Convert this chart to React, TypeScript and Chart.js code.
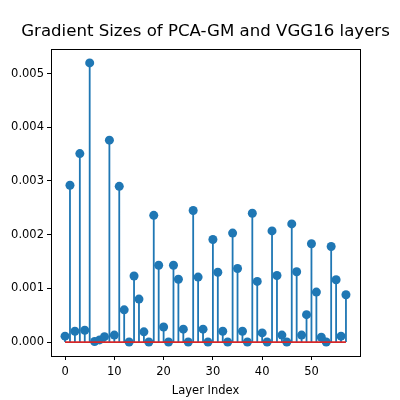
import React, { useEffect, useRef } from "react";
import { Chart, registerables } from "chart.js";

Chart.register(...registerables);

const layerIndex: number[] = Array.from({ length: 58 }, (_, i) => i);
const gradientSizes: number[] = [
  0.00011, 0.00292, 0.0002, 0.00351, 0.00022, 0.0052, 0.00001, 0.00004, 0.0001, 0.00376,
  0.00013, 0.0029, 0.0006, 0.0, 0.00123, 0.0008, 0.00019, 0.0, 0.00236, 0.00143,
  0.00028, 0.0, 0.00143, 0.00117, 0.00024, 0.0, 0.00245, 0.00121, 0.00024, 0.0,
  0.00191, 0.0013, 0.0002, 0.0, 0.00203, 0.00137, 0.0002, 0.0, 0.0024, 0.00113,
  0.00017, 0.0, 0.00207, 0.00124, 0.00013, 0.0, 0.0022, 0.00131, 0.00013, 0.00051,
  0.00183, 0.00093, 0.00009, 0.0, 0.00178, 0.00116, 0.00011, 0.00088,
];
const xTicks: number[] = [0, 10, 20, 30, 40, 50];
const yTicks: number[] = [0, 0.001, 0.002, 0.003, 0.004, 0.005];

const titleText = "Gradient Sizes of PCA-GM and VGG16 layers";
const xLabel = "Layer Index";

const framePlugin = {
  id: "frame",
  afterDatasetsDraw(chart: any) {
    const { ctx, chartArea } = chart;
    ctx.save();
    ctx.strokeStyle = "#000";
    ctx.lineWidth = 1;
    ctx.strokeRect(
      Math.round(chartArea.left) + 0.5,
      Math.round(chartArea.top) + 0.5,
      Math.round(chartArea.right - chartArea.left),
      Math.round(chartArea.bottom - chartArea.top)
    );
    ctx.restore();
  },
};

export default function App() {
  const ref = useRef<HTMLCanvasElement>(null);
  useEffect(() => {
    document.body.style.margin = "0";
    const stems: any[] = [];
    layerIndex.forEach((x, i) => {
      stems.push({ x, y: 0 });
      stems.push({ x, y: gradientSizes[i] });
      stems.push({ x, y: null });
    });
    const markers = layerIndex.map((x, i) => ({ x, y: gradientSizes[i] }));
    const yMax = Math.max(...gradientSizes);
    const yMargin = yMax * 0.05;
    const xMargin = (layerIndex[layerIndex.length - 1] - layerIndex[0]) * 0.05;
    const font = { family: "DejaVu Sans", size: 11.5 };
    const chart = new Chart(ref.current!, {
      type: "scatter",
      data: {
        datasets: [
          {
            label: "baseline",
            data: [
              { x: layerIndex[0], y: 0 },
              { x: layerIndex[layerIndex.length - 1], y: 0 },
            ],
            showLine: true,
            borderColor: "#d62728",
            borderWidth: 1.8,
            pointRadius: 0,
            order: 0,
          },
          {
            label: "markers",
            data: markers,
            showLine: false,
            backgroundColor: "#1f77b4",
            borderColor: "#1f77b4",
            pointRadius: 4.5,
            pointBorderWidth: 0,
            order: 1,
          },
          {
            label: "stems",
            data: stems,
            showLine: true,
            spanGaps: false,
            borderColor: "#1f77b4",
            borderWidth: 1.8,
            pointRadius: 0,
            order: 2,
          },
        ],
      },
      options: {
        animation: false,
        responsive: false,
        layout: { padding: { left: 11, right: 0, top: 0, bottom: 0 } },
        plugins: {
          legend: { display: false },
          tooltip: { enabled: false },
          title: {
            display: true,
            text: titleText,
            color: "#000",
            font: { family: "DejaVu Sans", size: 16.6, weight: "normal" },
            padding: { top: 22, bottom: 7 },
          },
        },
        scales: {
          x: {
            type: "linear",
            min: layerIndex[0] - xMargin,
            max: layerIndex[layerIndex.length - 1] + xMargin,
            afterBuildTicks: (s: any) => {
              s.ticks = xTicks.map((v) => ({ value: v }));
            },
            afterFit: (s: any) => {
              s.height = 44;
            },
            ticks: { color: "#000", font, padding: 5, maxRotation: 0, autoSkip: false },
            grid: { drawOnChartArea: false, drawTicks: true, tickLength: 4, color: "#000" },
            border: { display: false },
            title: {
              display: true,
              text: xLabel,
              color: "#000",
              font,
              padding: { top: 2, bottom: 2 },
            },
          },
          y: {
            type: "linear",
            min: -yMargin,
            max: yMax + yMargin,
            afterBuildTicks: (s: any) => {
              s.ticks = yTicks.map((v) => ({ value: v }));
            },
            afterFit: (s: any) => {
              s.width = 40;
            },
            ticks: {
              color: "#000",
              font,
              padding: 3,
              callback: (v: any) => Number(v).toFixed(3),
            },
            grid: { drawOnChartArea: false, drawTicks: true, tickLength: 4, color: "#000" },
            border: { display: false },
          },
          yRight: {
            type: "linear",
            position: "right",
            display: true,
            min: -yMargin,
            max: yMax + yMargin,
            ticks: { display: false },
            grid: { display: false },
            border: { display: false },
            afterFit: (s: any) => {
              s.width = 40;
            },
          },
        },
      },
      plugins: [framePlugin],
    });
    return () => chart.destroy();
  }, []);
  return <canvas ref={ref} width={400} height={400} />;
}
